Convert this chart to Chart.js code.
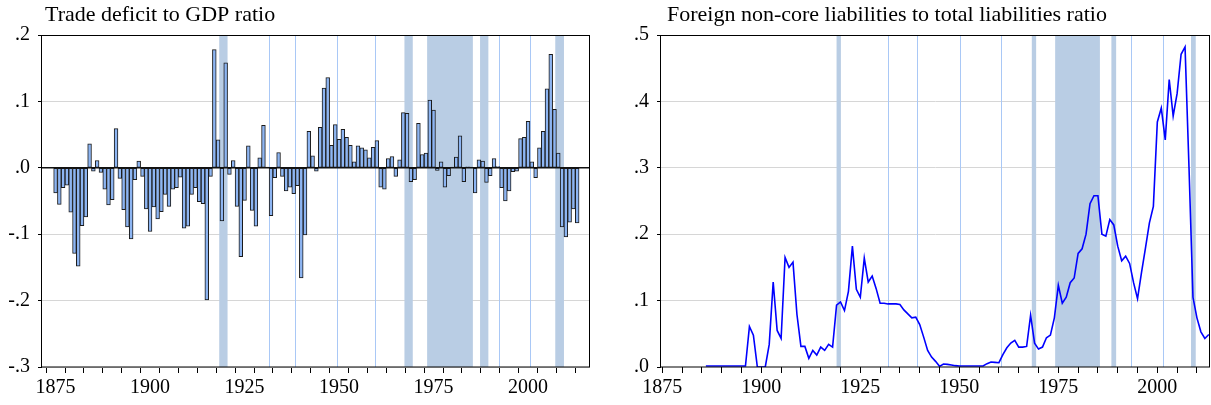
<!DOCTYPE html>
<html><head><meta charset="utf-8">
<script src="https://cdn.jsdelivr.net/npm/chart.js@4.4.0/dist/chart.umd.min.js"></script>
<style>
body{margin:0;background:#fff;width:1211px;height:405px;overflow:hidden;position:relative}
canvas{position:absolute;top:0}
</style></head>
<body>
<canvas id="c1" width="605" height="405" style="left:0"></canvas>
<canvas id="c2" width="606" height="405" style="left:605px"></canvas>
<script>
const years = [
1875,1876,1877,1878,1879,1880,1881,1882,1883,1884,
1885,1886,1887,1888,1889,1890,1891,1892,1893,1894,
1895,1896,1897,1898,1899,1900,1901,1902,1903,1904,
1905,1906,1907,1908,1909,1910,1911,1912,1913,1914,
1915,1916,1917,1918,1919,1920,1921,1922,1923,1924,
1925,1926,1927,1928,1929,1930,1931,1932,1933,1934,
1935,1936,1937,1938,1939,1940,1941,1942,1943,1944,
1945,1946,1947,1948,1949,1950,1951,1952,1953,1954,
1955,1956,1957,1958,1959,1960,1961,1962,1963,1964,
1965,1966,1967,1968,1969,1970,1971,1972,1973,1974,
1975,1976,1977,1978,1979,1980,1981,1982,1983,1984,
1985,1986,1987,1988,1989,1990,1991,1992,1993,1994,
1995,1996,1997,1998,1999,2000,2001,2002,2003,2004,
2005,2006,2007,2008,2009,2010,2011,2012,2013];

const tradeDeficit = [
-0.038,-0.055,-0.030,-0.026,-0.067,-0.129,-0.148,-0.087,-0.074,0.036,
-0.005,0.011,-0.007,-0.032,-0.056,-0.048,0.059,-0.016,-0.063,-0.089,
-0.107,-0.018,0.010,-0.013,-0.062,-0.096,-0.059,-0.077,-0.066,-0.040,
-0.058,-0.032,-0.030,-0.014,-0.091,-0.088,-0.040,-0.030,-0.051,-0.054,
-0.199,-0.013,0.178,0.042,-0.080,0.158,-0.010,0.011,-0.058,-0.134,
-0.049,0.033,-0.064,-0.088,0.015,0.064,0.001,-0.072,-0.015,0.023,
-0.013,-0.035,-0.029,-0.039,-0.027,-0.166,-0.101,0.055,0.018,-0.005,
0.061,0.120,0.136,0.034,0.065,0.043,0.058,0.046,0.034,0.009,
0.033,0.030,0.027,0.015,0.031,0.041,-0.029,-0.032,0.014,0.017,
-0.013,0.012,0.083,0.082,-0.021,-0.018,0.067,0.020,0.022,0.102,
0.087,-0.004,0.009,-0.029,-0.012,0.001,0.016,0.048,-0.021,0.0015,
0.001,-0.038,0.012,0.010,-0.022,-0.012,0.014,0.002,-0.030,-0.050,
-0.035,-0.006,-0.005,0.044,0.046,0.070,0.009,-0.015,0.030,0.055,
0.119,0.171,0.088,0.022,-0.089,-0.104,-0.082,-0.062,-0.083];

const nonCoreRatio = [
null,null,null,null,null,null,null,null,null,null,
null,0.0015,0.0015,0.0015,0.0015,0.0015,0.0015,0.0015,0.0015,0.0015,
0.0015,0.0015,0.061,0.048,0.000,0.000,0.000,0.034,0.128,0.055,
0.043,0.165,0.150,0.158,0.079,0.031,0.031,0.013,0.025,0.018,
0.030,0.025,0.034,0.030,0.093,0.098,0.085,0.114,0.182,0.117,
0.105,0.164,0.128,0.137,0.118,0.096,0.096,0.095,0.095,0.095,
0.094,0.086,0.080,0.074,0.075,0.064,0.045,0.025,0.015,0.0085,
0.001,0.0045,0.004,0.003,0.002,0.0015,0.0015,0.0015,0.0015,0.0015,
0.0015,0.0015,0.005,0.0075,0.007,0.0065,0.0185,0.029,0.036,0.040,
0.030,0.030,0.031,0.078,0.036,0.027,0.030,0.044,0.048,0.074,
0.123,0.096,0.105,0.127,0.134,0.171,0.178,0.200,0.246,0.258,
0.258,0.200,0.197,0.222,0.214,0.182,0.160,0.167,0.156,0.127,
0.103,0.142,0.179,0.217,0.242,0.369,0.390,0.342,0.433,0.378,
0.412,0.471,0.482,0.300,0.105,0.074,0.053,0.043,0.049];

const xTickYears = [1875,1880,1885,1890,1895,1900,1905,1910,1915,1920,1925,1930,1935,1940,1945,1950,1955,1960,1965,1970,1975,1980,1985,1990,1995,2000,2005,2010];
const xLabelYears = [1875,1900,1925,1950,1975,2000];
const leftYTicks = [-0.3,-0.2,-0.1,0,0.1,0.2];
const leftYLabels = ['-.3','-.2','-.1','.0','.1','.2'];
const rightYTicks = [0,0.1,0.2,0.3,0.4,0.5];
const rightYLabels = ['.0','.1','.2','.3','.4','.5'];

const leftBands = [[1918.3,1920.5],[1967.3,1969.5],[1973.3,1985.4],[1987.3,1989.5],[2007.2,2009.5]];
const leftLines = [1931.35,1938.4,1949.4,1959.4,1992.3,2000.4];
const rightBands = [[1919.0,1920.1],[1968.3,1969.4],[1974.2,1985.5],[1988.4,1989.6],[2008.5,2009.7]];
const rightLines = [1932.1,1939.2,1950.25,1960.4,1993.4,2001.4];

const FONT = '"Liberation Serif","Times New Roman",serif';
Chart.defaults.font.family = FONT;
Chart.defaults.color = '#000';

const panelPlugin = {
  id: 'panel',
  beforeDatasetsDraw(chart, args, o) {
    const {ctx, chartArea: a, scales: {x}} = chart;
    ctx.save();
    ctx.beginPath(); ctx.rect(a.left, a.top, a.right - a.left, a.bottom - a.top); ctx.clip();
    ctx.fillStyle = '#b9cde4';
    o.bands.forEach(([s, e]) => {
      const x0 = x.getPixelForValue(s), x1 = x.getPixelForValue(e);
      ctx.fillRect(x0, a.top, x1 - x0, a.bottom - a.top);
    });
    ctx.strokeStyle = '#a9c8f6'; ctx.lineWidth = 1;
    o.lines.forEach(v => {
      const px = Math.round(x.getPixelForValue(v)) + 0.5;
      ctx.beginPath(); ctx.moveTo(px, a.top); ctx.lineTo(px, a.bottom); ctx.stroke();
    });
    ctx.restore();
  },
  afterDatasetsDraw(chart, args, o) {
    const {ctx, chartArea: a, scales: {y}} = chart;
    if (o.zero) {
      const py = y.getPixelForValue(0);
      ctx.save(); ctx.strokeStyle = '#111'; ctx.lineWidth = 1.5;
      ctx.beginPath(); ctx.moveTo(a.left, py); ctx.lineTo(a.right, py); ctx.stroke(); ctx.restore();
    }
  },
  afterDraw(chart, args, o) {
    const {ctx, chartArea: a} = chart;
    ctx.save();
    ctx.strokeStyle = '#000'; ctx.lineWidth = 1;
    ctx.strokeRect(Math.round(a.left) - 0.5, Math.round(a.top) + 0.5, Math.round(a.right - a.left), Math.round(a.bottom - a.top) - 0.5);
    ctx.fillStyle = '#000';
    ctx.font = '22px ' + FONT;
    ctx.textBaseline = 'alphabetic';
    ctx.fillText(o.title, a.left + o.titleDx, 21);
    ctx.restore();
  }
};

function xScale(min, max) {
  return {
    type: 'linear', min, max,
    afterBuildTicks: s => { s.ticks = xTickYears.map(v => ({value: v})); },
    afterFit: s => { s.height = 38; },
    grid: {drawOnChartArea: false, tickLength: 6, tickColor: '#000', tickWidth: 1},
    border: {display: false},
    ticks: {autoSkip: false, maxRotation: 0, padding: 3, font: {size: 20},
      callback: v => xLabelYears.includes(v) ? String(v) : ''}
  };
}
function yScale(ticks, labels, width) {
  return {
    type: 'linear', min: ticks[0], max: ticks[ticks.length - 1],
    afterBuildTicks: s => { s.ticks = ticks.map(v => ({value: v})); },
    afterFit: s => { s.width = width; },
    grid: {color: c => (c.tick && Math.abs(c.tick.value) < 1e-9) ? 'rgba(0,0,0,0)' : '#d6d6d6',
      tickColor: '#000', tickLength: 4, lineWidth: 1},
    border: {display: false},
    ticks: {padding: 8, font: {size: 20}, callback: (v, i) => labels[i]}
  };
}

new Chart(document.getElementById('c1'), {
  type: 'bar',
  data: {datasets: [{
    data: years.map((yr, i) => ({x: yr, y: tradeDeficit[i]})),
    backgroundColor: '#8db5f2', borderColor: '#1a1a1a', borderWidth: 1,
    borderSkipped: false, barPercentage: 1, categoryPercentage: 1
  }]},
  options: {
    responsive: false, animation: false, devicePixelRatio: 1,
    layout: {padding: {top: 35, right: 15, left: 0, bottom: 0}},
    plugins: {legend: {display: false}, tooltip: {enabled: false},
      panel: {bands: leftBands, lines: leftLines, zero: true, title: 'Trade deficit to GDP ratio', titleDx: 3}},
    scales: {x: xScale(1874.0, 2013.8), y: yScale(leftYTicks, leftYLabels, 42)}
  },
  plugins: [panelPlugin]
});

new Chart(document.getElementById('c2'), {
  type: 'line',
  data: {datasets: [{
    data: years.map((yr, i) => ({x: yr, y: nonCoreRatio[i]})),
    borderColor: '#0000ff', borderWidth: 1.6, pointRadius: 0, tension: 0, spanGaps: false, fill: false
  }]},
  options: {
    responsive: false, animation: false, devicePixelRatio: 1,
    layout: {padding: {top: 35, right: 1, left: 0, bottom: 0}},
    plugins: {legend: {display: false}, tooltip: {enabled: false},
      panel: {bands: rightBands, lines: rightLines, zero: false, title: 'Foreign non-core liabilities to total liabilities ratio', titleDx: 6}},
    scales: {x: xScale(1874.67, 2013.3), y: yScale(rightYTicks, rightYLabels, 56)}
  },
  plugins: [panelPlugin]
});
</script>
</body></html>
